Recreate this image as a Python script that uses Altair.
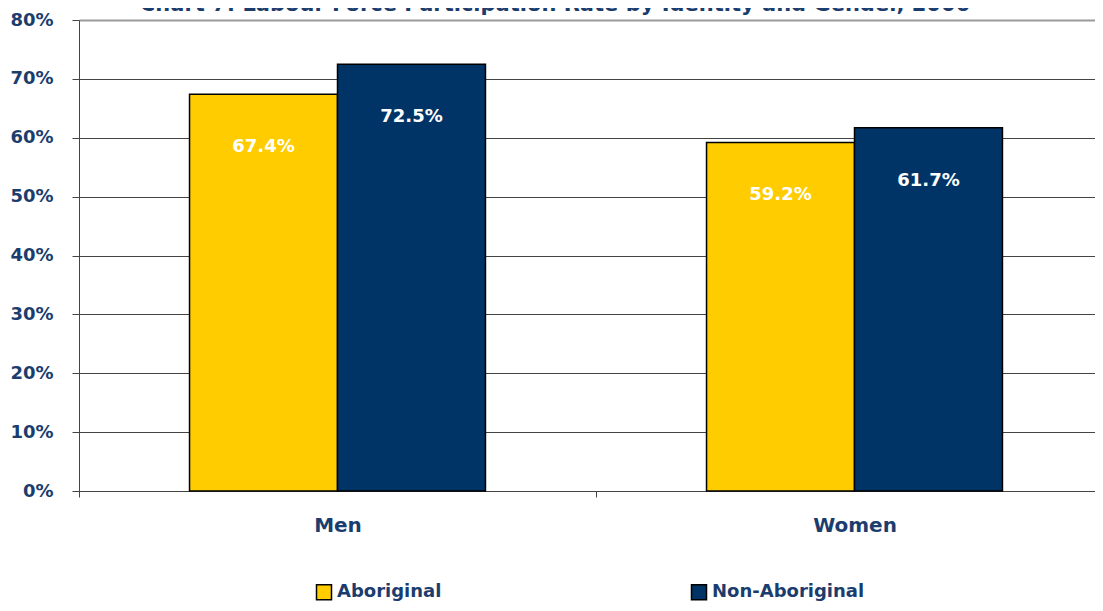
import altair as alt
import pandas as pd

genders = ["Men", "Men", "Women", "Women"]
identities = ["Aboriginal", "Non-Aboriginal", "Aboriginal", "Non-Aboriginal"]
rates = [0.674, 0.725, 0.592, 0.617]
labels = ["67.4%", "72.5%", "59.2%", "61.7%"]

df = pd.DataFrame({"gender": genders, "identity": identities, "rate": rates, "label": labels})

FONT = "DejaVu Sans"
TXT = "#1B3D6E"

x = alt.X("gender:N", title=None, sort=["Men", "Women"],
          scale=alt.Scale(paddingInner=0, paddingOuter=0, range=[0, 1034]),
          axis=alt.Axis(labelAngle=0, tickBand="extent", tickSize=6, tickColor="#444",
                        domainColor="#444", labelPadding=18, labelFont=FONT,
                        labelFontSize=20, labelFontWeight="bold", labelColor=TXT, grid=False))
xo = alt.XOffset("identity:N", sort=["Aboriginal", "Non-Aboriginal"],
                 scale=alt.Scale(paddingInner=0, paddingOuter=0.747))
y = alt.Y("rate:Q", title=None,
          scale=alt.Scale(domain=[0, 0.8], nice=False),
          axis=alt.Axis(values=[0, 0.1, 0.2, 0.3, 0.4, 0.5, 0.6, 0.7, 0.8], format=".0%",
                        tickSize=7, tickColor="#444", domainColor="#444", labelPadding=19,
                        labelFont=FONT, labelFontSize=18, labelFontWeight="bold",
                        labelColor=TXT, gridColor={"condition": {"test": "datum.value >= 0.8", "value": "#9a9a9a"}, "value": "#444"},
                        gridWidth={"condition": {"test": "datum.value >= 0.8", "value": 2}, "value": 1}))
color = alt.Color("identity:N", sort=["Aboriginal", "Non-Aboriginal"],
                  scale=alt.Scale(domain=["Aboriginal", "Non-Aboriginal"], range=["#FFCC00", "#003366"]),
                  legend=alt.Legend(title=None, orient="none", direction="horizontal",
                                    legendX=236, legendY=563, symbolType="square", symbolSize=225,
                                    symbolStrokeColor="black", symbolStrokeWidth=1.5,
                                    labelFont=FONT, labelFontSize=18, labelFontWeight="bold",
                                    labelColor=TXT, labelOffset=4, columnPadding=246))

bars = alt.Chart(df).mark_bar(stroke="black", strokeWidth=1.5).encode(x=x, xOffset=xo, y=y, color=color)
text = alt.Chart(df).mark_text(color="white", font=FONT, fontSize=18, fontWeight="bold",
                               baseline="middle", dy=53).encode(x=x, xOffset=xo, y=y, text="label:N")

chart = alt.layer(bars, text).properties(
    width=1016, height=471,
    padding={"left": 71, "top": 12, "right": 0, "bottom": 112},
    autosize=alt.AutoSizeParams(type="none"),
    title=alt.TitleParams("Chart 7: Labour Force Participation Rate by Identity and Gender, 2006",
                          font=FONT, fontSize=21, fontWeight="bold", color=TXT,
                          anchor="middle", baseline="alphabetic", offset=0, dy=21, dx=-32),
).configure_view(stroke=None).configure_axis(gridOpacity=1)

chart.save("out.html", embed_options={"renderer": "svg", "actions": False})
